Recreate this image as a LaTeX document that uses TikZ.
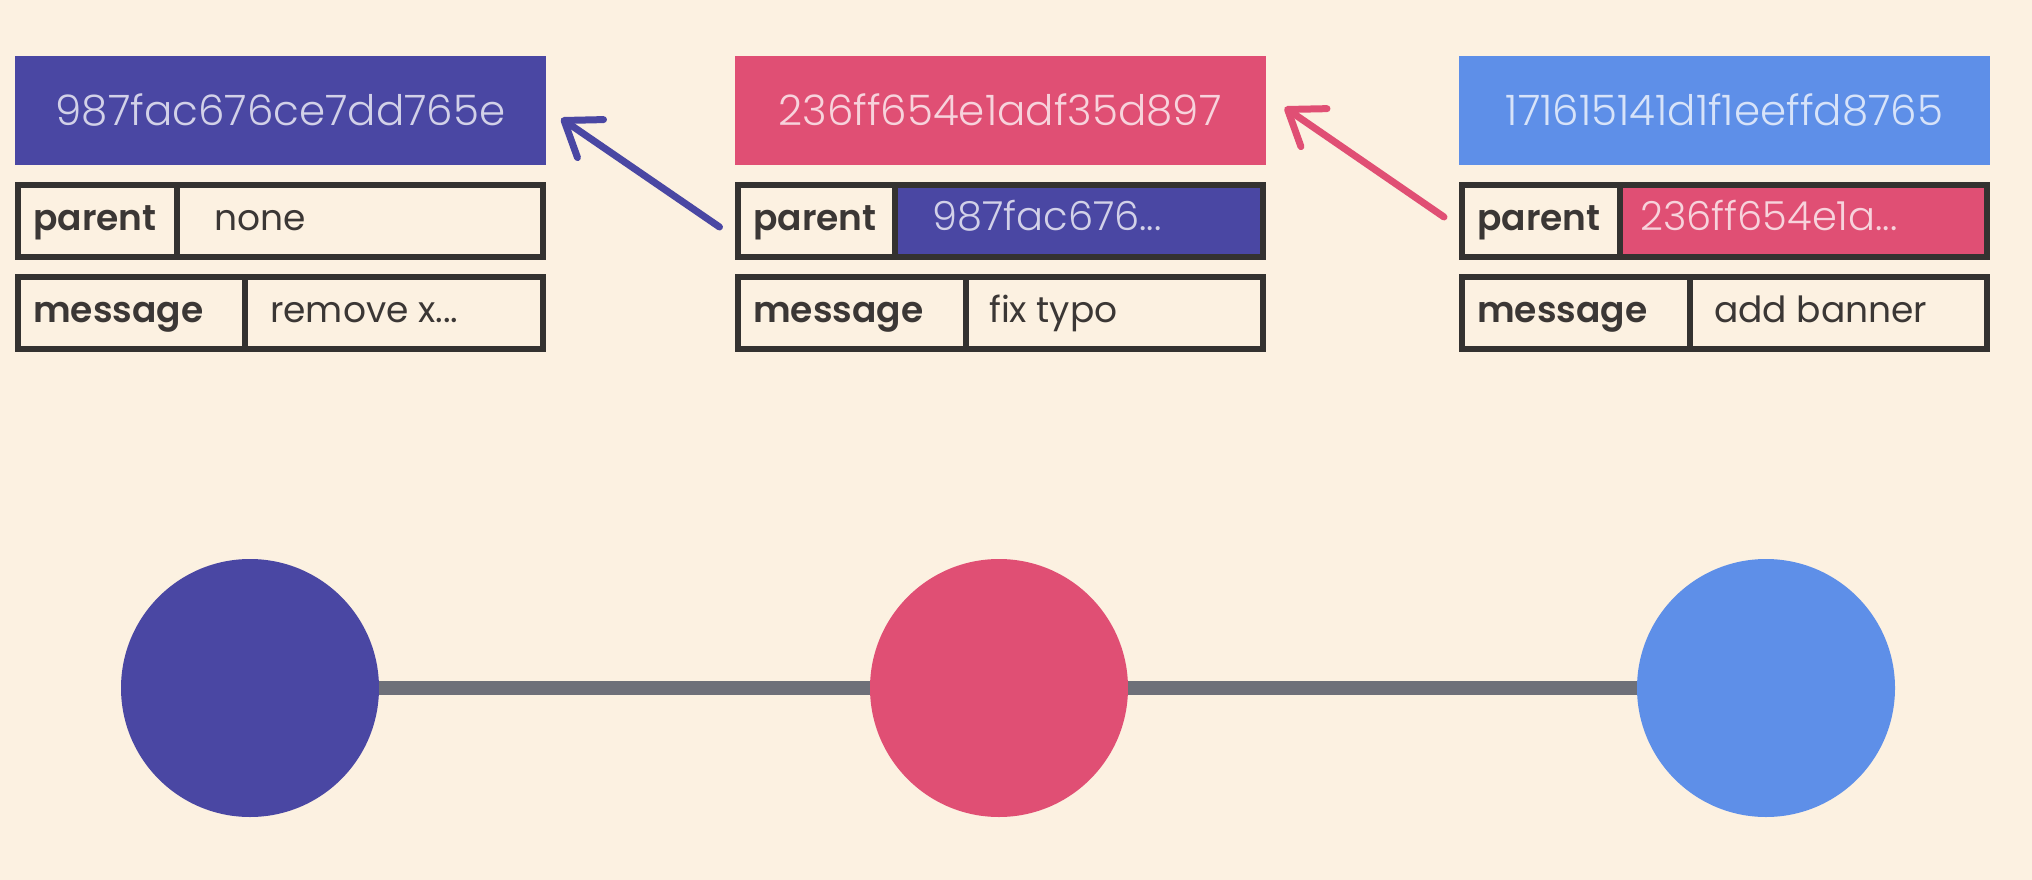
\documentclass[tikz,border=0pt]{standalone}
\usepackage{fontspec}
\setmainfont{Poppins}
\newfontfamily\hashfont{Poppins Light}
\newfontfamily\labelfont{Poppins SemiBold}
\usetikzlibrary{arrows.meta,calc}
\definecolor{bgc}{HTML}{FCF1E1}
\definecolor{cdark}{HTML}{4A47A3}
\definecolor{cpink}{HTML}{E04F74}
\definecolor{clight}{HTML}{5E8FE8}
\definecolor{cborder}{HTML}{343230}
\definecolor{ctext}{HTML}{3B3735}
\definecolor{cline}{HTML}{6E7079}
\tikzset{
  hdr/.style={rectangle, inner sep=0pt, minimum width=531pt, minimum height=109pt,
    font=\hashfont\fontsize{42}{50}\selectfont},
  rowbox/.style={rectangle, draw=cborder, line width=6pt, inner sep=0pt,
    minimum width=525pt, minimum height=72pt},
  divider/.style={draw=cborder, line width=6pt},
  lbl/.style={anchor=base west, inner sep=0pt, text=ctext, font=\labelfont\fontsize{36}{40}\selectfont},
  val/.style={anchor=base west, inner sep=0pt, text=ctext, font=\fontsize{36}{40}\selectfont},
  hval/.style={anchor=base west, inner sep=0pt, font=\hashfont\fontsize{40}{46}\selectfont},
  commit/.style={circle, inner sep=0pt, minimum size=258pt},
  link/.style={draw=cline, line width=14pt},
  ptr/.style={line width=7pt, line cap=round, -{Straight Barb[length=32pt, width=46pt, round]}}
}
\begin{document}
\begin{tikzpicture}[x=1pt,y=-1pt]
\fill[bgc] (0,0) rectangle (2032,880);
\useasboundingbox (0,0) rectangle (2032,880);

% headers
\node[hdr, fill=cdark, text=cdark!25!white] (h1) at (280.5,110.5) {987fac676ce7dd765e};
\node[hdr, fill=cpink, text=cpink!25!white] (h2) at (1000,110.5) {236ff654e1adf35d897};
\node[hdr, fill=clight, text=clight!25!white] (h3) at (1724.5,110.5) {171615141d1f1eeffd8765};

% column 1
\node[rowbox] (p1) at (280.5,221) {};
\draw[divider] (177,185) -- (177,257);
\node[lbl] (p1l) at (33,230) {parent};
\node[val] (p1v) at (214,230) {none};
\node[rowbox] (m1) at (280.5,312.5) {};
\draw[divider] (245,276.5) -- (245,348.5);
\node[lbl] (m1l) at (33,322) {message};
\node[val] (m1v) at (270,322) {remove x...};

% column 2
\fill[cdark] (895,185) rectangle (1262,257);
\node[rowbox] (p2) at (1000,221) {};
\draw[divider] (895,185) -- (895,257);
\node[lbl] (p2l) at (753,230) {parent};
\node[hval, text=cdark!25!white] (p2v) at (932,230) {987fac676...};
\node[rowbox] (m2) at (1000,312.5) {};
\draw[divider] (966,276.5) -- (966,348.5);
\node[lbl] (m2l) at (753,322) {message};
\node[val] (m2v) at (989,322) {fix typo};

% column 3
\fill[cpink] (1620,185) rectangle (1987,257);
\node[rowbox] (p3) at (1724.5,221) {};
\draw[divider] (1620,185) -- (1620,257);
\node[lbl] (p3l) at (1477,230) {parent};
\node[hval, text=cpink!25!white] (p3v) at (1640,230) {236ff654e1a...};
\node[rowbox] (m3) at (1724.5,312.5) {};
\draw[divider] (1690,276.5) -- (1690,348.5);
\node[lbl] (m3l) at (1477,322) {message};
\node[val] (m3v) at (1714,322) {add banner};

% pointers
\draw[ptr, draw=cdark] ($(p2.west)+(-15,6)$) -- ($(h1.east)+(15,8)$);
\draw[ptr, draw=cpink] ($(p3.west)+(-15,-4)$) -- ($(h2.east)+(19,-3)$);

% commit graph
\node[commit, fill=cdark] (c1) at (250,688) {};
\node[commit, fill=cpink] (c2) at (999,688) {};
\node[commit, fill=clight] (c3) at (1766,688) {};
\draw[link] (c1.east) -- (c2.west);
\draw[link] (c2.east) -- (c3.west);
\end{tikzpicture}
\end{document}
